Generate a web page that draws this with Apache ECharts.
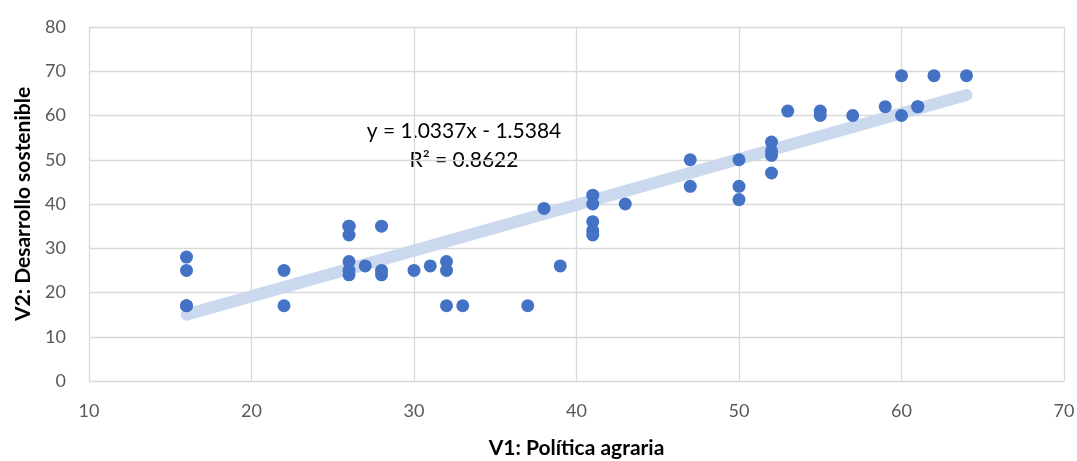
<!DOCTYPE html>
<html>
<head>
<meta charset="utf-8">
<script src="https://cdn.jsdelivr.net/npm/echarts@6/dist/echarts.min.js"></script>
<style>
  html, body { margin: 0; padding: 0; background: #fff; }
  #chart { width: 1077px; height: 461px; }
</style>
</head>
<body>
<div id="chart"></div>
<script>
// V1 (x) and V2 (y) scores
var v1 = [16, 16, 16, 16, 22, 22, 26, 26, 26, 26, 26, 26, 27, 28, 28, 28, 30, 31, 32, 32, 32,
          33, 37, 38, 39, 41, 41, 41, 41, 41, 43, 47, 47, 50, 50, 50, 52, 52, 52, 52,
          53, 55, 55, 57, 59, 60, 60, 61, 61, 62, 64];
var v2 = [28, 25, 17, 17, 25, 17, 35, 35, 33, 27, 24, 25, 26, 35, 25, 24, 25, 26, 27, 25, 17,
          17, 17, 39, 26, 42, 40, 36, 34, 33, 40, 50, 44, 50, 44, 41, 54, 52, 51, 47,
          61, 61, 60, 60, 62, 69, 60, 62, 62, 69, 69];

// linear trend as printed on the chart
var slope = 1.0337;
var intercept = -1.5384;
var trendX = [16, 64];
var trendLabel = ['y = 1.0337x - 1.5384', 'R² = 0.8622'];

var xTicks = { min: 10, max: 70, interval: 10 };
var yTicks = { min: 0, max: 80, interval: 10 };

var points = v1.map(function (x, i) { return [x, v2[i]]; });
var trend = trendX.map(function (x) { return [x, slope * x + intercept]; });

var chart = echarts.init(document.getElementById('chart'));
var font = 'Lato, "Noto Sans", sans-serif';
var titleStyle = { fontFamily: font, fontSize: 21, fontWeight: 'bold', color: '#000' };
var option = {
    animation: false,
    grid: { left: 89, right: 13, top: 27, bottom: 80, outerBoundsMode: 'none', containLabel: false },
    xAxis: {
        type: 'value',
        min: xTicks.min, max: xTicks.max, interval: xTicks.interval,
        name: 'V1: Política agraria',
        nameLocation: 'middle',
        nameGap: 57,
        nameTextStyle: titleStyle,
        axisLine: { show: false },
        axisTick: { show: false },
        axisLabel: { fontFamily: font, fontSize: 18, color: '#595959', margin: 21 },
        splitLine: { lineStyle: { color: '#d9d9d9', width: 1.3 } }
    },
    yAxis: {
        type: 'value',
        min: yTicks.min, max: yTicks.max, interval: yTicks.interval,
        name: 'V2: Desarrollo sostenible',
        nameLocation: 'middle',
        nameGap: 55,
        nameTextStyle: titleStyle,
        axisLine: { show: false },
        axisTick: { show: false },
        axisLabel: { fontFamily: font, fontSize: 18, color: '#595959', margin: 23 },
        splitLine: { lineStyle: { color: '#d9d9d9', width: 1.3 } }
    },
    series: [
        {
            type: 'line',
            data: trend,
            symbol: 'none',
            z: 1,
            lineStyle: { color: '#cbd9ef', width: 12, cap: 'round' }
        },
        {
            type: 'scatter',
            data: points,
            symbolSize: 13,
            z: 2,
            itemStyle: { color: '#4472c4', opacity: 1 }
        }
    ],
    graphic: [
        {
            type: 'text', x: 464, y: 131,
            style: { text: trendLabel[0], fontFamily: font, fontSize: 21, fill: '#000', align: 'center', verticalAlign: 'middle' }
        },
        {
            type: 'text', x: 464, y: 160,
            style: { text: trendLabel[1], fontFamily: font, fontSize: 21, fill: '#000', align: 'center', verticalAlign: 'middle' }
        }
    ]
};
chart.setOption(option);
window.addEventListener('resize', chart.resize);
</script>
</body>
</html>
